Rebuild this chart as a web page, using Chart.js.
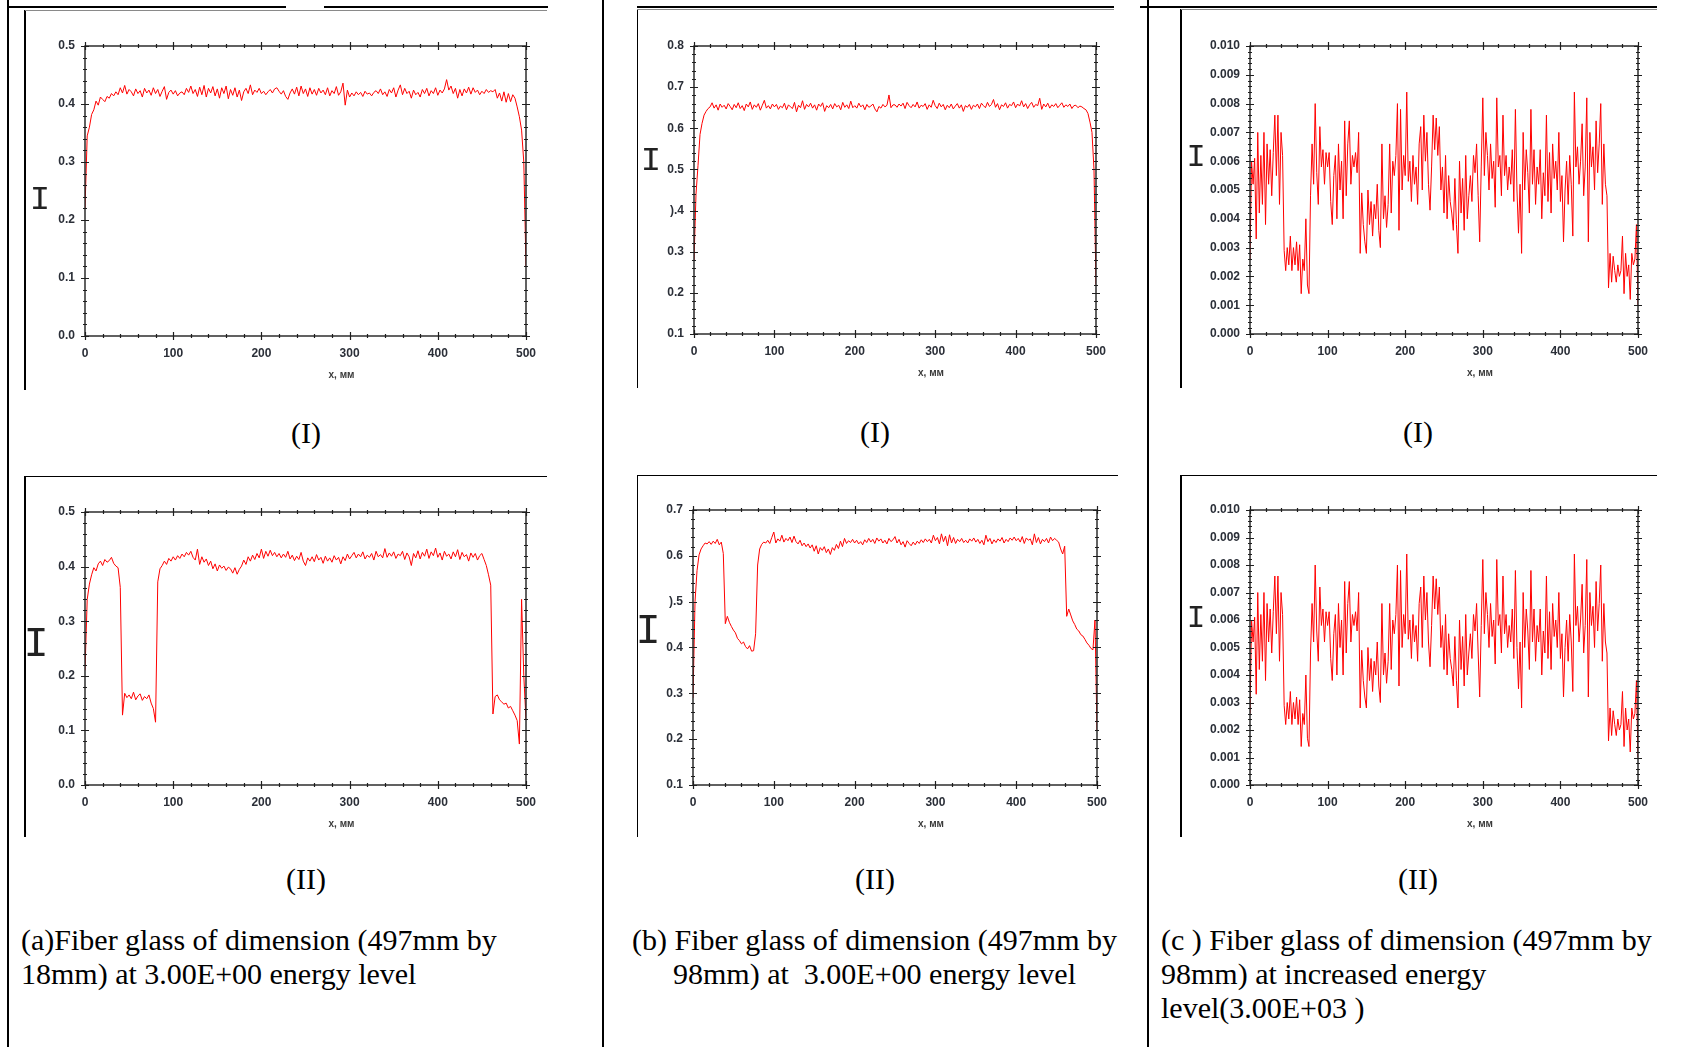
<!DOCTYPE html>
<html>
<head>
<meta charset="utf-8">
<script src="https://cdn.jsdelivr.net/npm/chart.js@4.4.1/dist/chart.umd.min.js"></script>
<style>
html,body{margin:0;padding:0;background:#fff;}
body{width:1684px;height:1047px;position:relative;overflow:hidden;}
.ln{position:absolute;background:#000;z-index:2;}
.ln.g{background:#8a8a8a;}
canvas{position:absolute;z-index:1;}
.ylab{position:absolute;font-family:'Liberation Mono','DejaVu Sans Mono',monospace;color:#222;line-height:1;transform:translate(-50%,-50%);z-index:3;}
.cap{position:absolute;font-family:'Liberation Serif','Times New Roman',serif;font-size:30px;line-height:34px;color:#000;white-space:pre;z-index:3;}
.ctr{text-align:center;}
</style>
</head>
<body>
<script>
// ---------------- data ----------------
const X_TICKS = ['0','100','200','300','400','500'];
const Y_TICKS_A = ['0.0','0.1','0.2','0.3','0.4','0.5'];
const Y_TICKS_B1 = ['0.1','0.2','0.3',').4','0.5','0.6','0.7','0.8'];
const Y_TICKS_B2 = ['0.1','0.2','0.3','0.4',').5','0.6','0.7'];
const Y_TICKS_C = ['0.000','0.001','0.002','0.003','0.004','0.005','0.006','0.007','0.008','0.009','0.010'];
const X_TITLE = 'x, мм';
const Y_TITLE = 'I';
const X_STEP_AB = 2.5;   // mm between samples, panels (a) and (b)
const X_STEP_C = 2;      // mm between samples, panels (c)

// (a) I  — 18 mm fibre glass, 3.00E+00
const A_I = [
0.220,0.345,0.360,0.382,0.390,0.405,0.398,0.412,0.408,0.404,
0.413,0.410,0.418,0.414,0.421,0.416,0.428,0.419,0.432,0.417,
0.425,0.421,0.414,0.426,0.418,0.423,0.412,0.427,0.419,0.424,
0.415,0.428,0.418,0.425,0.413,0.422,0.430,0.408,0.420,0.424,
0.417,0.423,0.414,0.419,0.421,0.416,0.427,0.420,0.431,0.418,
0.425,0.413,0.429,0.416,0.432,0.412,0.427,0.419,0.430,0.414,
0.426,0.410,0.428,0.418,0.431,0.409,0.425,0.415,0.428,0.412,
0.424,0.406,0.421,0.427,0.418,0.433,0.416,0.424,0.420,0.427,
0.418,0.422,0.416,0.421,0.425,0.419,0.426,0.428,0.422,0.417,
0.423,0.413,0.408,0.419,0.426,0.417,0.429,0.414,0.431,0.418,
0.426,0.413,0.428,0.417,0.425,0.415,0.427,0.419,0.424,0.416,
0.428,0.414,0.423,0.418,0.430,0.415,0.421,0.436,0.398,0.424,
0.412,0.419,0.414,0.421,0.416,0.420,0.413,0.422,0.417,0.419,
0.414,0.420,0.423,0.418,0.426,0.416,0.421,0.413,0.425,0.419,
0.428,0.412,0.424,0.433,0.416,0.427,0.418,0.422,0.410,0.424,
0.416,0.420,0.412,0.425,0.418,0.427,0.414,0.423,0.418,0.428,
0.415,0.424,0.419,0.426,0.442,0.424,0.431,0.418,0.427,0.410,
0.425,0.414,0.426,0.419,0.429,0.417,0.428,0.420,0.424,0.416,
0.422,0.418,0.425,0.420,0.423,0.421,0.425,0.410,0.419,0.405,
0.421,0.403,0.418,0.404,0.416,0.410,0.395,0.378,0.355,0.300,
0.120];

// (a) II
const A_II = [
0.210,0.340,0.368,0.385,0.398,0.392,0.405,0.410,0.402,0.413,
0.408,0.411,0.417,0.406,0.401,0.398,0.362,0.128,0.168,0.160,
0.165,0.158,0.170,0.156,0.163,0.167,0.155,0.162,0.158,0.165,
0.150,0.140,0.115,0.372,0.396,0.402,0.410,0.404,0.415,0.410,
0.418,0.412,0.420,0.415,0.423,0.418,0.426,0.421,0.428,0.417,
0.412,0.432,0.404,0.418,0.408,0.414,0.402,0.410,0.396,0.405,
0.392,0.403,0.397,0.401,0.393,0.399,0.396,0.388,0.398,0.386,
0.395,0.401,0.412,0.404,0.418,0.410,0.421,0.413,0.424,0.416,
0.432,0.415,0.428,0.419,0.430,0.420,0.426,0.418,0.424,0.416,
0.423,0.417,0.428,0.414,0.421,0.411,0.419,0.413,0.426,0.410,
0.402,0.416,0.410,0.418,0.409,0.422,0.412,0.417,0.406,0.419,
0.410,0.416,0.408,0.420,0.412,0.417,0.405,0.418,0.411,0.423,
0.414,0.420,0.426,0.416,0.423,0.418,0.427,0.414,0.421,0.417,
0.424,0.412,0.428,0.418,0.422,0.416,0.433,0.417,0.425,0.419,
0.427,0.415,0.423,0.420,0.428,0.413,0.425,0.418,0.402,0.424,
0.416,0.429,0.414,0.426,0.419,0.432,0.415,0.427,0.420,0.434,
0.417,0.425,0.412,0.428,0.419,0.423,0.414,0.427,0.418,0.431,
0.413,0.426,0.418,0.422,0.410,0.425,0.417,0.424,0.412,0.420,
0.424,0.413,0.402,0.385,0.366,0.130,0.162,0.165,0.156,0.152,
0.148,0.150,0.141,0.144,0.136,0.128,0.118,0.075,0.340,0.200,
0.120];

// (b) I — 98 mm fibre glass, 3.00E+00
const B_I = [
0.280,0.440,0.510,0.585,0.612,0.632,0.641,0.648,0.652,0.662,
0.649,0.657,0.644,0.659,0.651,0.656,0.647,0.660,0.653,0.645,
0.658,0.650,0.662,0.648,0.655,0.643,0.659,0.652,0.664,0.646,
0.657,0.651,0.660,0.644,0.656,0.668,0.649,0.655,0.647,0.659,
0.652,0.658,0.646,0.654,0.650,0.661,0.645,0.657,0.652,0.648,
0.663,0.640,0.656,0.650,0.667,0.646,0.658,0.652,0.661,0.649,
0.657,0.644,0.659,0.653,0.662,0.641,0.655,0.650,0.658,0.647,
0.660,0.652,0.656,0.645,0.663,0.651,0.657,0.648,0.666,0.650,
0.655,0.649,0.661,0.652,0.657,0.645,0.658,0.651,0.654,0.659,
0.647,0.640,0.653,0.649,0.658,0.652,0.656,0.681,0.650,0.657,
0.657,0.651,0.659,0.654,0.661,0.648,0.663,0.655,0.650,0.658,
0.652,0.664,0.649,0.656,0.653,0.660,0.646,0.657,0.651,0.668,
0.655,0.648,0.661,0.652,0.658,0.645,0.656,0.650,0.659,0.647,
0.654,0.660,0.649,0.657,0.641,0.655,0.651,0.658,0.646,0.656,
0.652,0.659,0.648,0.661,0.655,0.650,0.663,0.653,0.658,0.670,
0.651,0.660,0.645,0.657,0.653,0.662,0.649,0.658,0.655,0.664,
0.650,0.659,0.654,0.667,0.652,0.660,0.648,0.657,0.663,0.651,
0.658,0.655,0.673,0.646,0.659,0.652,0.661,0.649,0.657,0.653,
0.660,0.650,0.656,0.662,0.651,0.657,0.653,0.659,0.648,0.655,
0.656,0.650,0.654,0.652,0.648,0.645,0.636,0.615,0.590,0.500,
0.220];

// (b) II
const B_II = [
0.290,0.500,0.568,0.602,0.615,0.622,0.628,0.626,0.631,0.625,
0.632,0.627,0.636,0.624,0.630,0.605,0.452,0.468,0.455,0.446,
0.438,0.432,0.420,0.415,0.408,0.412,0.402,0.397,0.404,0.392,
0.393,0.430,0.580,0.615,0.625,0.630,0.628,0.634,0.627,0.640,
0.652,0.628,0.637,0.632,0.645,0.630,0.638,0.633,0.641,0.629,
0.643,0.631,0.626,0.634,0.622,0.628,0.620,0.626,0.617,0.624,
0.610,0.622,0.604,0.618,0.612,0.620,0.607,0.615,0.603,0.618,
0.612,0.625,0.616,0.632,0.620,0.638,0.627,0.633,0.629,0.636,
0.628,0.634,0.626,0.631,0.624,0.635,0.629,0.638,0.630,0.636,
0.627,0.639,0.632,0.637,0.628,0.634,0.626,0.638,0.631,0.635,
0.642,0.628,0.636,0.624,0.631,0.619,0.633,0.627,0.622,0.630,
0.624,0.632,0.627,0.635,0.629,0.637,0.631,0.636,0.628,0.645,
0.633,0.640,0.626,0.648,0.631,0.643,0.622,0.646,0.628,0.640,
0.627,0.636,0.631,0.638,0.629,0.634,0.628,0.637,0.632,0.639,
0.630,0.636,0.627,0.634,0.624,0.645,0.631,0.638,0.626,0.635,
0.629,0.637,0.632,0.640,0.628,0.636,0.631,0.639,0.634,0.641,
0.633,0.638,0.630,0.642,0.627,0.639,0.634,0.637,0.624,0.648,
0.629,0.640,0.626,0.636,0.631,0.638,0.628,0.641,0.633,0.638,
0.634,0.630,0.615,0.604,0.621,0.468,0.484,0.471,0.458,0.450,
0.440,0.436,0.428,0.425,0.418,0.410,0.405,0.398,0.395,0.460,
0.220];

// (c) I and (c) II — 98 mm fibre glass, 3.00E+03 (both panels show the same trace)
const C_I = [
0.0026,0.0060,0.0052,0.0061,0.0033,0.0070,0.0042,0.0062,0.0045,0.0070,
0.0038,0.0066,0.0052,0.0064,0.0048,0.0063,0.0076,0.0055,0.0076,0.0045,
0.0070,0.0062,0.0029,0.0022,0.0030,0.0024,0.0034,0.0022,0.0030,0.0024,
0.0032,0.0022,0.0031,0.0014,0.0026,0.0022,0.0040,0.0017,0.0014,0.0048,
0.0066,0.0052,0.0080,0.0056,0.0045,0.0072,0.0058,0.0064,0.0052,0.0063,
0.0058,0.0063,0.0046,0.0038,0.0055,0.0062,0.0040,0.0066,0.0050,0.0060,
0.0040,0.0074,0.0048,0.0066,0.0074,0.0052,0.0062,0.0058,0.0063,0.0056,
0.0070,0.0028,0.0049,0.0038,0.0032,0.0028,0.0050,0.0038,0.0046,0.0034,
0.0045,0.0040,0.0052,0.0036,0.0030,0.0066,0.0040,0.0048,0.0037,0.0045,
0.0066,0.0042,0.0060,0.0055,0.0062,0.0080,0.0036,0.0078,0.0050,0.0062,
0.0055,0.0084,0.0053,0.0060,0.0046,0.0062,0.0052,0.0058,0.0045,0.0066,
0.0072,0.0050,0.0076,0.0060,0.0070,0.0052,0.0043,0.0058,0.0076,0.0064,
0.0075,0.0062,0.0072,0.0050,0.0058,0.0042,0.0062,0.0040,0.0055,0.0046,
0.0042,0.0036,0.0054,0.0038,0.0028,0.0060,0.0042,0.0054,0.0036,0.0062,
0.0040,0.0048,0.0055,0.0046,0.0062,0.0056,0.0066,0.0048,0.0032,0.0058,
0.0082,0.0055,0.0070,0.0062,0.0050,0.0066,0.0054,0.0060,0.0044,0.0082,
0.0058,0.0062,0.0048,0.0076,0.0055,0.0062,0.0050,0.0058,0.0052,0.0064,
0.0046,0.0078,0.0050,0.0035,0.0052,0.0028,0.0070,0.0050,0.0064,0.0056,
0.0042,0.0078,0.0052,0.0064,0.0045,0.0058,0.0052,0.0064,0.0040,0.0056,
0.0048,0.0076,0.0046,0.0063,0.0042,0.0066,0.0054,0.0060,0.0050,0.0070,
0.0046,0.0055,0.0032,0.0050,0.0060,0.0045,0.0062,0.0052,0.0034,0.0084,
0.0058,0.0065,0.0052,0.0060,0.0073,0.0048,0.0058,0.0082,0.0032,0.0070,
0.0058,0.0065,0.0050,0.0074,0.0056,0.0066,0.0080,0.0045,0.0066,0.0052,
0.0048,0.0016,0.0028,0.0018,0.0027,0.0022,0.0018,0.0024,0.0020,0.0022,
0.0034,0.0014,0.0028,0.0020,0.0024,0.0012,0.0028,0.0024,0.0026,0.0038,
0.0010];
const C_II = C_I;

const CAPTIONS = {
  a: '(a)Fiber glass of dimension (497mm by\n18mm) at 3.00E+00 energy level',
  b: '(b) Fiber glass of dimension (497mm by\n98mm) at  3.00E+00 energy level',
  c: '(c ) Fiber glass of dimension (497mm by\n98mm) at increased energy\nlevel(3.00E+03 )'
};
const ROW_LABELS = ['(I)', '(II)'];

// ---------------- layout (positions only) ----------------
const PANELS = [
  {ys:A_I,  step:X_STEP_AB, yr:[0,0.5,0.1],      yl:Y_TICKS_A,  plot:[85,46,526,336],   lab:[40,200,34]},
  {ys:A_II, step:X_STEP_AB, yr:[0,0.5,0.1],      yl:Y_TICKS_A,  plot:[85,512,526,785],  lab:[36,645,42]},
  {ys:B_I,  step:X_STEP_AB, yr:[0.1,0.8,0.1],    yl:Y_TICKS_B1, plot:[694,46,1096,334], lab:[651,161,34]},
  {ys:B_II, step:X_STEP_AB, yr:[0.1,0.7,0.1],    yl:Y_TICKS_B2, plot:[693,510,1097,785],lab:[648,632,42]},
  {ys:C_I,  step:X_STEP_C,  yr:[0,0.010,0.001],  yl:Y_TICKS_C,  plot:[1250,46,1638,334],lab:[1196,158,32]},
  {ys:C_II, step:X_STEP_C,  yr:[0,0.010,0.001],  yl:Y_TICKS_C,  plot:[1250,510,1638,785],lab:[1196,618,31]}
];
const LINES = [
  // table rules
  [7,0,2,1047],[601.5,0,2,1047],[1146.5,0,2,1047],
  [8,5.5,278,2],[324,5.5,224,2],[637,5.5,477,2],[1140,5.5,517,2],
  // picture frames
  [24,10,1.5,380],[636.5,9,1.5,379],[1180,9,1.5,379],
  [24,475.5,523,1.5],[636.5,474.5,481,1.5],[1180,474.5,477,1.5],
  [24,475.5,1.5,361],[636.5,474.5,1.5,362],[1180,474.5,1.5,362]
];
const GRAY_LINES = [[25,9.5,522,1],[637,9,477,1],[1181,9,476,1]];

function addLine(r, cls) {
  const d = document.createElement('div');
  d.className = 'ln' + (cls ? ' ' + cls : '');
  d.style.cssText = `left:${r[0]}px;top:${r[1]}px;width:${r[2]}px;height:${r[3]}px;`;
  document.body.appendChild(d);
}
LINES.forEach(r => addLine(r));
GRAY_LINES.forEach(r => addLine(r, 'g'));

function addText(txt, cls, css) {
  const d = document.createElement('div');
  d.className = cls;
  d.style.cssText = css;
  d.textContent = txt;
  document.body.appendChild(d);
}
// row labels
[[306,416],[875,415],[1418,415]].forEach(p => addText(ROW_LABELS[0], 'cap ctr', `left:${p[0]-100}px;top:${p[1]}px;width:200px;`));
[[306,862],[875,862],[1418,862]].forEach(p => addText(ROW_LABELS[1], 'cap ctr', `left:${p[0]-100}px;top:${p[1]}px;width:200px;`));
addText(CAPTIONS.a, 'cap', 'left:21px;top:923px;');
addText(CAPTIONS.b, 'cap ctr', 'left:602px;top:923px;width:545px;');
addText(CAPTIONS.c, 'cap', 'left:1161px;top:923px;');

// ---------------- drawing ----------------
const framePlugin = {
  id: 'frame',
  afterDatasetsDraw(chart) {
    const {ctx, chartArea: a, scales: {x, y}} = chart;
    ctx.save();
    ctx.strokeStyle = '#1e1e1e';
    ctx.lineWidth = 1.4;
    ctx.strokeRect(a.left, a.top, a.right - a.left, a.bottom - a.top);
    ctx.lineWidth = 1.2;
    ctx.beginPath();
    const vx = (v, len) => {
      const p = Math.round(x.getPixelForValue(v)) + 0.5;
      ctx.moveTo(p, a.bottom - len); ctx.lineTo(p, a.bottom + len);
      ctx.moveTo(p, a.top - len); ctx.lineTo(p, a.top + len);
    };
    const vy = (v, len) => {
      const p = Math.round(y.getPixelForValue(v)) + 0.5;
      ctx.moveTo(a.left - len, p); ctx.lineTo(a.left + len, p);
      ctx.moveTo(a.right - len, p); ctx.lineTo(a.right + len, p);
    };
    const walk = (sc, fn) => {
      const t = sc.ticks;
      t.forEach((tk, i) => {
        fn(tk.value, 4);
        if (i < t.length - 1) {
          const d = (t[i + 1].value - tk.value) / 5;
          for (let k = 1; k < 5; k++) fn(tk.value + k * d, 2);
        }
      });
    };
    walk(x, vx); walk(y, vy);
    ctx.stroke();
    ctx.fillStyle = '#3a3a3a';
    ctx.font = "bold 10px 'Liberation Sans', Arial, sans-serif";
    ctx.textAlign = 'center';
    ctx.textBaseline = 'middle';
    ctx.fillText(X_TITLE, (a.left + a.right) / 2 + 36, a.bottom + 39);
    ctx.restore();
  }
};

const tickFont = {family: "'Liberation Sans', Arial, sans-serif", size: 12, weight: 'bold'};
const PAD_TOP = 18, PAD_RIGHT = 22, Y_AXIS_W = 70, X_AXIS_H = 52;

PANELS.forEach(p => {
  const [L, T, R, B] = p.plot;
  const cv = document.createElement('canvas');
  const left = L - Y_AXIS_W, top = T - PAD_TOP, w = R + PAD_RIGHT - left, h = B + X_AXIS_H - top;
  cv.width = w; cv.height = h;
  cv.style.cssText = `left:${left}px;top:${top}px;width:${w}px;height:${h}px;`;
  document.body.appendChild(cv);

  addText(Y_TITLE, 'ylab', `left:${p.lab[0]}px;top:${p.lab[1]}px;font-size:${p.lab[2]}px;`);

  const pts = p.ys.map((v, i) => ({x: i * p.step, y: v}));
  const [yMin, yMax, yStep] = p.yr;
  new Chart(cv, {
    type: 'line',
    data: {datasets: [{data: pts, borderColor: '#ff0000', borderWidth: 1, pointRadius: 0, tension: 0, fill: false}]},
    options: {
      responsive: false, animation: false, devicePixelRatio: 1,
      layout: {padding: {top: PAD_TOP, right: PAD_RIGHT, left: 0, bottom: 0}},
      plugins: {legend: {display: false}, tooltip: {enabled: false}},
      scales: {
        x: {
          type: 'linear', min: 0, max: 500,
          afterFit(s) { s.height = X_AXIS_H; },
          grid: {display: false, drawTicks: false}, border: {display: false},
          ticks: {stepSize: 100, padding: 10, color: '#2b2f38', font: tickFont, maxRotation: 0,
                  callback: (v) => X_TICKS[Math.round(v / 100)]}
        },
        y: {
          type: 'linear', min: yMin, max: yMax,
          afterFit(s) { s.width = Y_AXIS_W; },
          grid: {display: false, drawTicks: false}, border: {display: false},
          ticks: {stepSize: yStep, padding: 10, color: '#2b2f38', font: tickFont,
                  callback: (v) => p.yl[Math.round((v - yMin) / yStep)]}
        }
      }
    },
    plugins: [framePlugin]
  });
});
</script>
</body>
</html>
